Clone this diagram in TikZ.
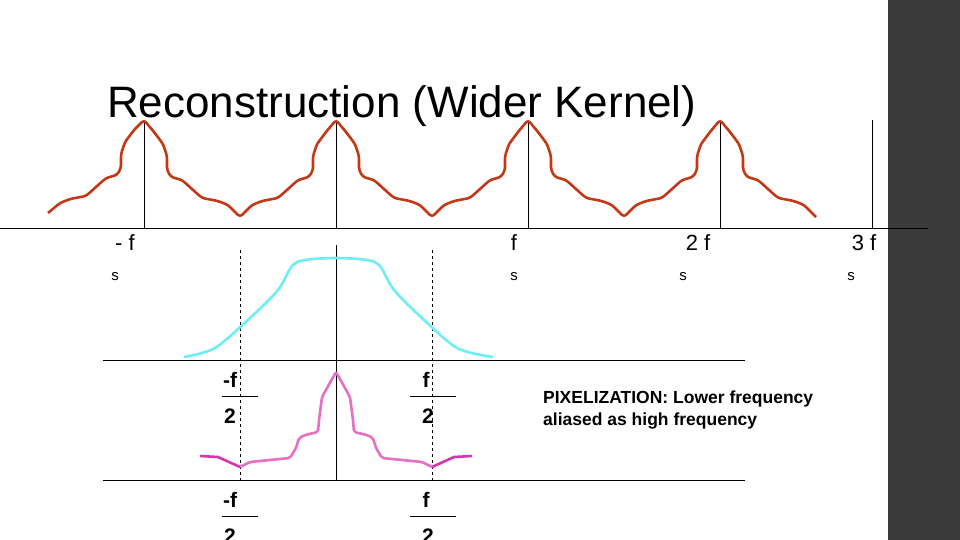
\documentclass[tikz,border=0pt]{standalone}
\usepackage{fontspec}
\setmainfont{Liberation Sans}
\begin{document}
\begin{tikzpicture}[x=1pt,y=-1pt,
  ax/.style={line width=0.9pt},
  lab/.style={font=\fontsize{22}{22}\selectfont, inner sep=0},
  sub/.style={font=\fontsize{15}{15}\selectfont, inner sep=0},
  frac/.style={font=\fontsize{21}{21}\selectfont\bfseries, inner sep=0}]
\useasboundingbox (0,0) rectangle (960,540);
\clip (0,0) rectangle (960,540);
\definecolor{rc}{RGB}{196,56,22}
\definecolor{cy}{RGB}{110,238,242}
\definecolor{pk}{RGB}{232,112,196}
\definecolor{mg}{RGB}{214,52,176}
\fill[fill={rgb,255:red,58;green,58;blue,58}] (888,0) rectangle (960,540);
\node[anchor=west, inner sep=0, font=\fontsize{44}{44}\selectfont] (title) at (107,106) {Reconstruction (Wider Kernel)};
% top axis
\coordinate (a0) at (0,228); \coordinate (a1) at (928,228);
\draw[ax] (a0) -- (a1);
\foreach \x in {144,336,528,720} \draw[ax] (\x,120) -- (\x,228);
\draw[ax] (872,120) -- (872,228);
% red curve
\def\halfR{ -- ++(10,12) -- ++(9,12) -- ++(4,12) -- ++(0,14) -- ++(4,7) -- ++(11,3) -- ++(10,9) -- ++(10,9) -- ++(16,3) -- ++(10,4) -- ++(12,12)}
\def\halfU{ -- ++(12,-12) -- ++(10,-4) -- ++(16,-3) -- ++(10,-9) -- ++(10,-9) -- ++(11,-3) -- ++(4,-7) -- ++(0,-14) -- ++(4,-12) -- ++(9,-12) -- ++(10,-12)}
\draw[draw=rc, line width=2.6pt, line join=round, rounded corners=3pt] (48,213) -- ++(12,-10) -- ++(10,-4) -- ++(16,-3) -- ++(10,-9) -- ++(10,-9) -- ++(11,-3) -- ++(4,-7) -- ++(0,-14) -- ++(4,-12) -- ++(9,-12) -- (144,120)
 \halfR{} \halfU{} \halfR{} \halfU{} \halfR{} \halfU{} \halfR{} ;
% top labels
\node[lab] (m1) at (125,243) {- f};
\node[lab] (p1) at (514,243) {f};
\node[lab] (p2) at (698,243) {2 f};
\node[lab] (p3) at (864,243) {3 f};
\foreach \x/\n in {115/s0,514/s1,683/s2,851/s3} \node[sub] (\n) at (\x,277) {s};
% middle
\draw[ax] (103,360) -- (745,360);
\draw[ax] (336,245) -- (336,480);
\draw[ax] (103,480) -- (745,480);
\draw[dashed, line width=0.8pt] (240,250) -- (240,480);
\draw[dashed, line width=0.8pt] (432,250) -- (432,480);
\draw[cy, line width=2.6pt] plot[smooth, tension=0.5] coordinates {(184,357) (215,348) (250,318) (278,290) (292,266) (305,260) (336,258) (367,260) (380,266) (394,290) (422,318) (457,348) (493,357)};
% pink
\draw[mg, line width=2.6pt, line join=round] (200,456) -- (218,457) -- (240,467);
\draw[mg, line width=2.6pt, line join=round] (432,467) -- (454,457) -- (472,456);
\draw[pk, line width=2.6pt, line join=round, rounded corners=2pt] (240,467) -- (250,462) -- (290,458) -- (296,448) -- (299,438) -- (305,435) -- (318,432) -- (319,420) -- (322,397) -- (336,372) -- (350,397) -- (353,420) -- (354,432) -- (367,435) -- (373,438) -- (376,448) -- (382,458) -- (422,462) -- (432,467);
% fractions
\foreach \y in {0,120}{
 \node[frac] at (230,380+\y) {-f};
 \draw[line width=0.7pt] (222,396+\y) -- (258,396+\y);
 \node[frac] at (230,416+\y) {2};
 \node[frac] at (426,380+\y) {f};
 \draw[line width=0.7pt] (410,396+\y) -- (456,396+\y);
 \node[frac] at (428,416+\y) {2};
}
\node[anchor=west, align=left, inner sep=0, font=\fontsize{17.5}{22}\selectfont\bfseries] (pix) at (543,410) {PIXELIZATION: Lower frequency\\aliased as high frequency};
\end{tikzpicture}
\end{document}
